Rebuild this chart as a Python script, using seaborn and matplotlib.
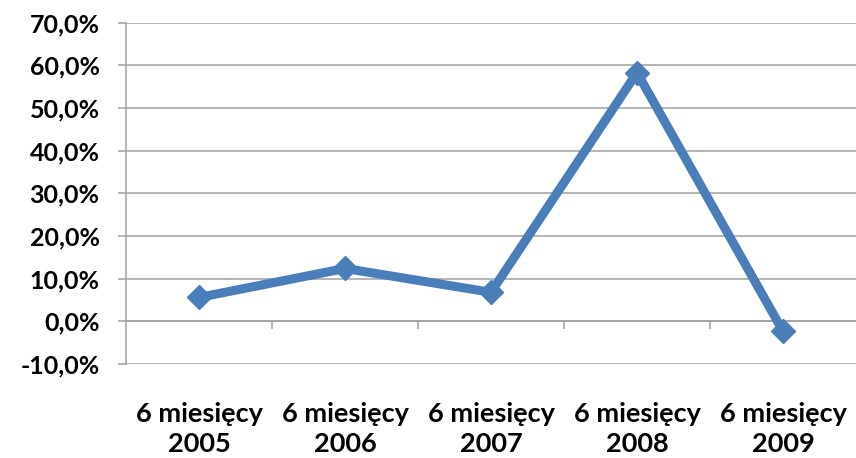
import matplotlib
matplotlib.use("Agg")
import matplotlib.pyplot as plt
import seaborn as sns
import pandas as pd
from matplotlib.ticker import FuncFormatter, FixedLocator

categories = ["6 miesięcy\n2005", "6 miesięcy\n2006", "6 miesięcy\n2007",
              "6 miesięcy\n2008", "6 miesięcy\n2009"]
values = [5.6, 12.4, 6.8, 58.3, -2.3]
yticks = [-10, 0, 10, 20, 30, 40, 50, 60, 70]

sns.set_theme(style="white")
plt.rcParams["font.family"] = ["Lato", "DejaVu Sans"]

df = pd.DataFrame({"cat": categories, "val": values})

fig = plt.figure(figsize=(8.56, 4.58), dpi=100)
ax = fig.add_axes([126/856, 1 - 364/458, 1 - 126/856, (364 - 22.7)/458])

blue = "#4A7EBB"
sns.lineplot(data=df, x="cat", y="val", ax=ax, color=blue, linewidth=6.5,
             marker="D", markersize=12, markeredgecolor=blue, markeredgewidth=1,
             sort=False)

ax.set_xlim(-0.5, len(categories) - 0.5)
ax.set_ylim(-10, 70)
ax.yaxis.set_major_locator(FixedLocator(yticks))
ax.yaxis.set_major_formatter(FuncFormatter(lambda v, p: f"{v:.1f}%".replace(".", ",")))
ax.grid(axis="y", color="#A0A0A0", linewidth=1.1)
ax.set_axisbelow(True)
ax.set_xlabel("")
ax.set_ylabel("")

for s in ["top", "right", "bottom"]:
    ax.spines[s].set_visible(False)
ax.spines["left"].set_color("#A0A0A0")
ax.spines["left"].set_linewidth(1.1)

ax.tick_params(axis="y", which="major", left=True, length=6, width=1.1, color="#A0A0A0",
               pad=13, labelsize=18, labelcolor="#000000")
for lab in ax.get_yticklabels():
    lab.set_fontweight("bold")

ax.tick_params(axis="x", which="major", bottom=False, pad=21, labelsize=19.5, labelcolor="#000000")
ax.set_xticks(range(len(categories)))
ax.set_xticklabels(categories, fontweight="bold", linespacing=1.3)

# axis line at 0 with category boundary ticks
zero_pos = (0 - (-10)) / 80
sec = ax.secondary_xaxis(zero_pos)
sec.set_xticks([i + 0.5 for i in range(len(categories) - 1)])
sec.set_xticklabels([])
sec.tick_params(axis="x", direction="out", length=6, width=1.1, color="#A0A0A0")
sec.spines["bottom"].set_color("#A0A0A0")
sec.spines["bottom"].set_linewidth(1.1)
for s in ["top", "left", "right"]:
    sec.spines[s].set_visible(False)

fig.savefig("out.png", dpi=100)
